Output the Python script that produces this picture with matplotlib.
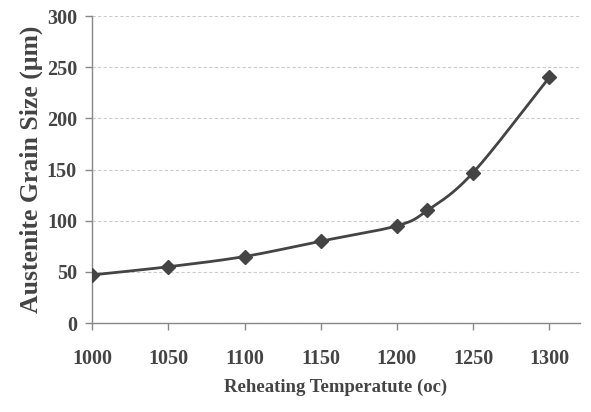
import numpy as np
import matplotlib
matplotlib.use('Agg')
import matplotlib.pyplot as plt

temps = [1000, 1050, 1100, 1150, 1200, 1220, 1250, 1300]
grain = [47, 55, 65, 80, 95, 110, 147, 240]
xticks = [1000, 1050, 1100, 1150, 1200, 1250, 1300]
yticks = [0, 50, 100, 150, 200, 250, 300]

plt.rcParams['font.family'] = ['Liberation Serif', 'DejaVu Serif']


def smooth(xs, ys, n=30):
    # Catmull-Rom style smoothing, like a spreadsheet "smoothed line"
    x = np.asarray(xs, float)
    y = np.asarray(ys, float)
    px = np.concatenate([[2 * x[0] - x[1]], x, [2 * x[-1] - x[-2]]])
    py = np.concatenate([[2 * y[0] - y[1]], y, [2 * y[-1] - y[-2]]])
    ox, oy = [], []
    t = np.linspace(0, 1, n)
    for i in range(1, len(px) - 2):
        p0, p1, p2, p3 = [np.array([px[j], py[j]]) for j in range(i - 1, i + 3)]
        c1 = p1 + (p2 - p0) / 6
        c2 = p2 - (p3 - p1) / 6
        b = ((1 - t) ** 3)[:, None] * p1 + (3 * (1 - t) ** 2 * t)[:, None] * c1 \
            + (3 * (1 - t) * t ** 2)[:, None] * c2 + (t ** 3)[:, None] * p2
        ox.extend(b[:, 0])
        oy.extend(b[:, 1])
    return ox, oy


fig = plt.figure(figsize=(5.91, 4.12), dpi=100)
ax = fig.add_axes([0.156, 0.216, 0.825, 0.745])

sx, sy = smooth(temps, grain)
ax.plot(sx, sy, color='#444444', lw=2.0, zorder=3)
ax.plot(temps, grain, ls='none', marker='D', ms=7, color='#444444', zorder=4)

ax.set_xlim(1000, 1320)
ax.set_ylim(0, 300)
ax.set_xticks(xticks)
ax.set_yticks(yticks)
ax.yaxis.grid(True, ls=(0, (3, 2)), color='#cccccc', lw=0.8)
ax.set_axisbelow(True)

for s in ['top', 'right']:
    ax.spines[s].set_visible(False)
for s in ['left', 'bottom']:
    ax.spines[s].set_color('#888888')
    ax.spines[s].set_linewidth(1.0)
ax.tick_params(axis='both', color='#888888', length=5, width=1,
               labelsize=14.5, labelcolor='#444444', pad=6)
for lab in ax.get_xticklabels() + ax.get_yticklabels():
    lab.set_fontweight('bold')
ax.tick_params(axis='x', pad=14)

ax.set_xlabel('Reheating Temperatute (oc)', fontsize=13.5, fontweight='bold',
              color='#444444', labelpad=7)
ax.set_ylabel('Austenite Grain Size (μm)', fontsize=18.5, fontweight='bold',
              color='#444444', labelpad=3)

fig.savefig('out.png', dpi=100)
